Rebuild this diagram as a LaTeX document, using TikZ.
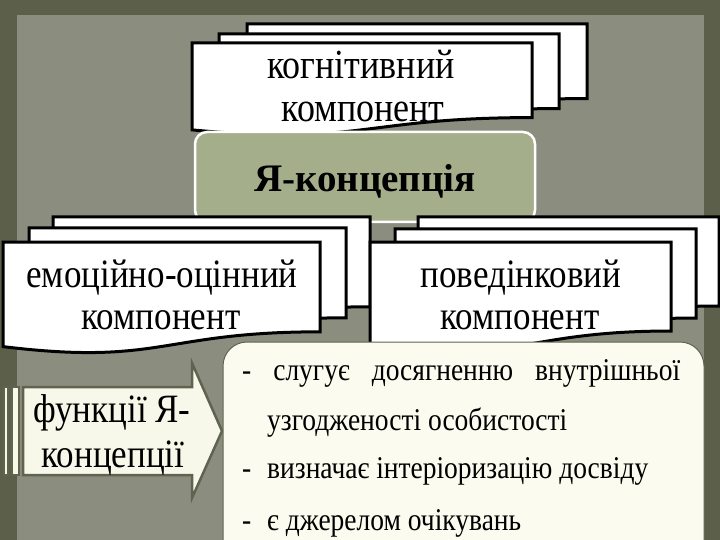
\documentclass[tikz,border=0pt]{standalone}
\usepackage{fontspec}
\setmainfont{Liberation Serif}
\definecolor{frame}{HTML}{5C604A}
\definecolor{panel}{HTML}{8B8D7F}
\definecolor{titlefill}{HTML}{A4AE8B}
\definecolor{cream}{HTML}{FBFBEF}
\definecolor{arrowfill}{HTML}{F8F8EA}
\definecolor{arrowline}{HTML}{60644E}
\newcommand{\tallx}[1]{\scalebox{1}[1.15]{#1}}
\tikzset{
  docstyle/.style={draw=black, line width=3pt, fill=white, line join=miter},
  comptext/.style={anchor=base, inner sep=0pt, font=\fontsize{35}{40}\selectfont},
  bultext/.style={anchor=base west, inner sep=0pt, font=\fontsize{27.5}{32}\selectfont},
}
% document shape: x y w h
\newcommand{\mydocshape}[4]{%
  \draw[docstyle] (#1,#2) -- ({#1+#3},#2) -- ({#1+#3},{#2+0.802*#4})
    .. controls ({#1+0.5*#3},{#2+0.802*#4}) and ({#1+0.5*#3},{#2+1.107*#4})
    .. (#1,{#2+0.934*#4}) -- cycle;}
\begin{document}
\begin{tikzpicture}[x=1pt,y=-1pt]
\useasboundingbox (0,0) rectangle (720,540);
% background
\fill[frame] (0,0) rectangle (720,540);
\fill[panel] (17,15) rectangle (704,540);

% cognitive component
\mydocshape{247}{24}{340}{93}
\mydocshape{219}{34}{340}{93}
\mydocshape{192}{43}{340}{93}
\node[comptext, font=\fontsize{36}{40}\selectfont] (cog1) at (361,79) {\tallx{когнітивний}};
\node[comptext, font=\fontsize{36}{40}\selectfont] (cog2) at (363,122) {\tallx{компонент}};

% title
\node[draw=white, line width=2.5pt, fill=titlefill, rounded corners=12pt,
      minimum width=340pt, minimum height=90pt, inner sep=0pt] (title) at (365,177) {};
\node[anchor=base, inner sep=0pt, font=\fontsize{39}{42}\selectfont\bfseries] (titletext) at (365,192) {Я-концепція};

% emotional component
\mydocshape{53}{217}{317}{112}
\mydocshape{29}{228}{317}{112}
\mydocshape{3}{242}{317}{112}
\node[comptext] (emo1) at (162,287) {\tallx{емоційно-оцінний}};
\node[comptext] (emo2) at (161,329) {\tallx{компонент}};

% behavioural component
\mydocshape{418}{217}{301}{111}
\mydocshape{395}{229}{301}{111}
\mydocshape{370}{242}{301}{111}
\node[comptext] (beh1) at (521,287) {\tallx{поведінковий}};
\node[comptext] (beh2) at (520,329) {\tallx{компонент}};

% striped arrow
\begin{scope}[draw=arrowline, line width=2.5pt, fill=arrowfill]
  \filldraw (4,387) rectangle (8,475);
  \filldraw (12,387) rectangle (19,475);
  \filldraw (23,387) -- (192,387) -- (192,363) -- (222,431) -- (192,498) -- (192,475) -- (23,475) -- cycle;
\end{scope}
\node[comptext] (fun1) at (112,422) {\tallx{функції Я-}};
\node[comptext] (fun2) at (113,467) {\tallx{концепції}};

% functions box
\draw[draw=arrowline, line width=1pt, fill=cream, rounded corners=24pt] (223,342) rectangle (704,570);
\node[bultext] (b1) at (242,380) {\tallx{\makebox[438pt][s]{- слугує досягненню внутрішньої}}};
\node[bultext] (b2) at (267,430) {\tallx{узгодженості особистості}};
\node[bultext] (d3) at (242,478) {\tallx{-}};
\node[bultext] (b3) at (267,478) {\tallx{визначає інтеріоризацію досвіду}};
\node[bultext] (d4) at (242,530) {\tallx{-}};
\node[bultext] (b4) at (267,530) {\tallx{є джерелом очікувань}};
\end{tikzpicture}
\end{document}
